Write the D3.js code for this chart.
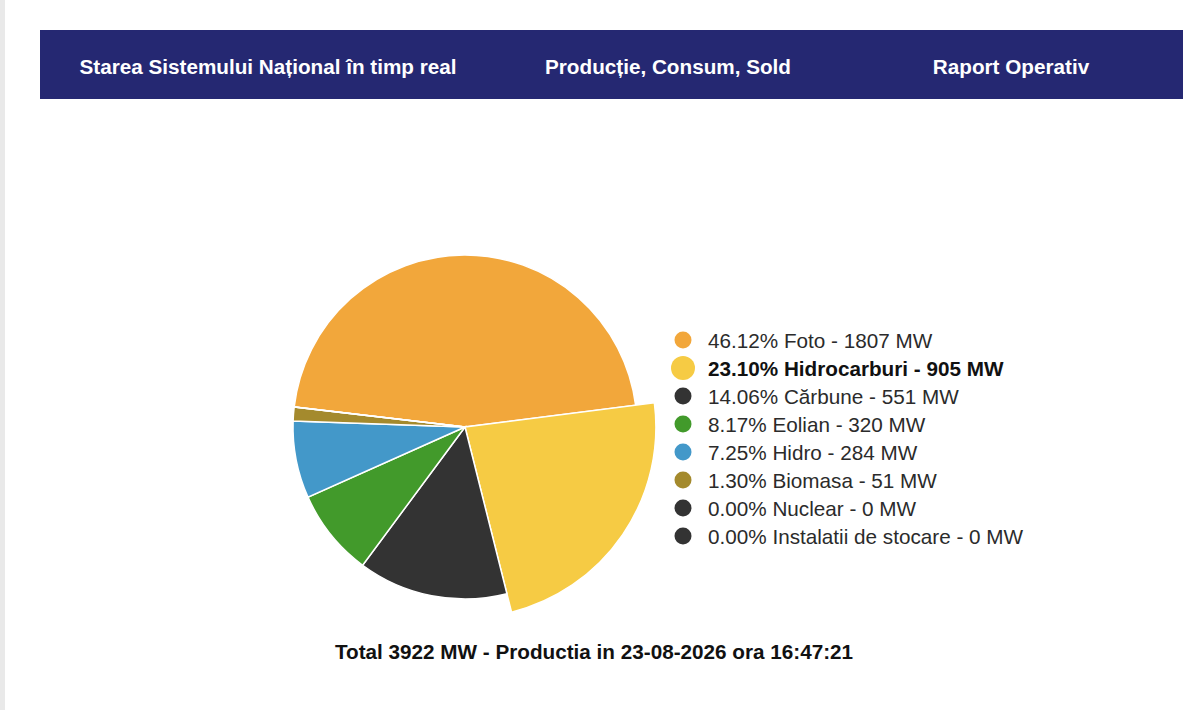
<!DOCTYPE html>
<html>
<head>
<meta charset="utf-8">
<script src="https://cdn.jsdelivr.net/npm/d3@7"></script>
<style>
    body { margin: 0; background: #fff; font-family: "Liberation Sans", Arial, Helvetica, sans-serif; }
</style>
</head>
<body>
<div id="chart"></div>
<script>
// data
const sources = ["Foto", "Hidrocarburi", "Cărbune", "Eolian", "Hidro", "Biomasa", "Nuclear", "Instalatii de stocare"];
const valuesMW = [1807, 905, 551, 320, 284, 51, 0, 0];
const percents = ["46.12", "23.10", "14.06", "8.17", "7.25", "1.30", "0.00", "0.00"];
const colors = ["#f2a73b", "#f6cb44", "#333333", "#429a2b", "#4398c9", "#a48a2d", "#333333", "#333333"];
const navItems = ["Starea Sistemului Național în timp real", "Producție, Consum, Sold", "Raport Operativ"];
const totalLabel = "Total 3922 MW - Productia in 23-08-2026 ora 16:47:21";
const highlighted = 1;

const width = 1200, height = 710;

const svg = d3.select("#chart")
    .append("svg")
    .attr("width", width)
    .attr("height", height);

// grey strip on the left
svg.append("rect")
    .attr("x", 0).attr("y", 0)
    .attr("width", 5).attr("height", height)
    .attr("fill", "#e9e9e9");

// header bar
svg.append("rect")
    .attr("x", 40).attr("y", 30)
    .attr("width", 1143).attr("height", 69)
    .attr("fill", "#252872");

// nav links are not evenly spaced
const navX = d3.scaleOrdinal()
    .domain(navItems)
    .range([268, 668, 1011]);

svg.selectAll("text.nav")
    .data(navItems)
    .join("text")
    .attr("class", "nav")
    .attr("x", d => navX(d))
    .attr("y", 74)
    .attr("text-anchor", "middle")
    .attr("fill", "#ffffff")
    .attr("font-size", 20.7)
    .attr("font-weight", "bold")
    .text(d => d);

// pie
const radius = 172;
const cx = 465, cy = 427;

const pie = d3.pie()
    .sort(null)
    .startAngle(-83.3 * Math.PI / 180)
    .endAngle((360 - 83.3) * Math.PI / 180)
    .value(d => d);

const arc = d3.arc().innerRadius(0).outerRadius(radius);
const arcBig = d3.arc().innerRadius(0).outerRadius(radius * 1.11);

const g = svg.append("g")
    .attr("transform", `translate(${cx},${cy})`);

g.selectAll("path")
    .data(pie(valuesMW))
    .join("path")
    .attr("d", (d, i) => i === highlighted ? arcBig(d) : arc(d))
    .attr("fill", (d, i) => colors[i])
    .attr("stroke", "#ffffff")
    .attr("stroke-width", 1.5);

// legend
const legendY = d3.scaleBand()
    .domain(d3.range(sources.length))
    .range([326, 326 + 28 * sources.length]);

const legend = svg.append("g");

const rows = legend.selectAll("g")
    .data(sources)
    .join("g")
    .attr("transform", (d, i) => `translate(683, ${legendY(i) + legendY.bandwidth() / 2})`);

rows.append("circle")
    .attr("r", (d, i) => i === highlighted ? 12 : 8.5)
    .attr("fill", (d, i) => colors[i]);

rows.append("text")
    .attr("x", 25)
    .attr("y", 7.5)
    .attr("font-size", 20.7)
    .attr("font-weight", (d, i) => i === highlighted ? "bold" : "normal")
    .attr("fill", (d, i) => i === highlighted ? "#111111" : "#2b2b2b")
    .text((d, i) => `${percents[i]}% ${d} - ${valuesMW[i]} MW`);

// total label
svg.append("text")
    .attr("x", 594)
    .attr("y", 659)
    .attr("text-anchor", "middle")
    .attr("font-size", 20.7)
    .attr("font-weight", "bold")
    .attr("fill", "#111111")
    .text(totalLabel);
</script>
</body>
</html>
